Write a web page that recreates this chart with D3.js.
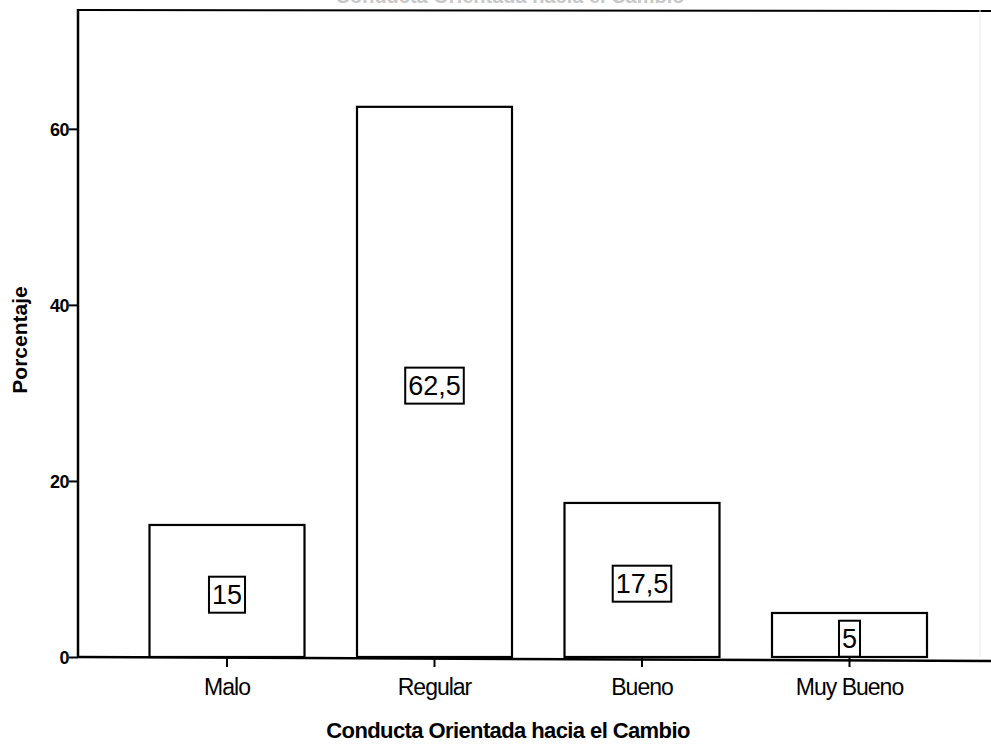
<!DOCTYPE html>
<meta charset="utf-8">
<head>
<style>
  body { margin: 0; background: #fff; }
  text { font-family: "Liberation Sans", Arial, sans-serif; fill: #000; }
</style>
</head>
<body>
<script src="https://cdn.jsdelivr.net/npm/d3@7"></script>
<script>

// data
var categories = ["Malo", "Regular", "Bueno", "Muy Bueno"];
var values = [15, 62.5, 17.5, 5];
var valueLabels = ["15", "62,5", "17,5", "5"];
var yTicks = [0, 20, 40, 60];
var xTitle = "Conducta Orientada hacia el Cambio";
var yTitle = "Porcentaje";

var W = 991, H = 744;
var plotLeft = 78, plotTop = 10, baseY = 657;

var svg = d3.select("body").append("svg")
    .attr("width", W)
    .attr("height", H);

var x = d3.scaleBand()
    .domain(categories)
    .range([123.25, 953.25])
    .paddingInner(0.253)
    .paddingOuter(0.1265);

var y = d3.scaleLinear()
    .domain([0, 73.5])
    .range([baseY, plotTop]);

// title, mostly cut off by the top edge in the scan
svg.append("text")
    .attr("x", 510)
    .attr("y", 3)
    .attr("text-anchor", "middle")
    .style("font-weight", "bold")
    .style("font-size", "20px")
    .style("fill", "#c8c8c8")
    .text(xTitle);

// frame: top line and faint right line
svg.append("line")
    .attr("x1", plotLeft).attr("x2", W)
    .attr("y1", plotTop).attr("y2", plotTop + 1)
    .attr("stroke", "#000").attr("stroke-width", 2);
svg.append("line")
    .attr("x1", 980).attr("x2", 980)
    .attr("y1", plotTop).attr("y2", baseY)
    .attr("stroke", "#ececec").attr("stroke-width", 1);

// bars
svg.selectAll("rect.bar")
    .data(values)
    .enter().append("rect")
    .attr("class", "bar")
    .attr("x", function(d, i) { return x(categories[i]); })
    .attr("y", function(d) { return y(d); })
    .attr("width", x.bandwidth())
    .attr("height", function(d) { return y(0) - y(d); })
    .attr("fill", "#fff")
    .attr("stroke", "#000")
    .attr("stroke-width", 2.2);

// y axis
var yAxis = svg.append("g")
    .attr("transform", "translate(" + plotLeft + ",0)")
    .call(d3.axisLeft(y).tickValues(yTicks).tickSize(9).tickPadding(0).tickSizeOuter(0));
yAxis.select(".domain").remove();
yAxis.selectAll(".tick line").attr("stroke", "#000").attr("stroke-width", 2);
yAxis.selectAll("text")
    .style("font-size", "18px")
    .style("font-weight", "bold")
    .style("letter-spacing", "-0.5px")
    .attr("dy", "0.36em");
svg.append("line")
    .attr("x1", plotLeft).attr("x2", plotLeft)
    .attr("y1", plotTop - 1).attr("y2", baseY + 1)
    .attr("stroke", "#000").attr("stroke-width", 2.5);

// x axis
var xAxis = svg.append("g")
    .attr("transform", "translate(0," + baseY + ")")
    .call(d3.axisBottom(x).tickSize(10).tickPadding(12).tickSizeOuter(0));
xAxis.select(".domain").remove();
xAxis.selectAll(".tick line").attr("stroke", "#000").attr("stroke-width", 2);
xAxis.selectAll("text")
    .style("font-size", "23px")
    .style("letter-spacing", "-1px");
svg.append("line")
    .attr("x1", plotLeft).attr("x2", W)
    .attr("y1", baseY).attr("y2", baseY + 4)
    .attr("stroke", "#000").attr("stroke-width", 2.5);

// value labels in boxes
var lab = svg.selectAll("g.lab")
    .data(values)
    .enter().append("g")
    .attr("class", "lab")
    .attr("transform", function(d, i) {
        return "translate(" + (x(categories[i]) + x.bandwidth() / 2) + "," + (y(d / 2) + 3) + ")";
    });
lab.append("text")
    .attr("text-anchor", "middle")
    .attr("dy", "0.36em")
    .style("font-size", "27px")
    .text(function(d, i) { return valueLabels[i]; });
lab.each(function() {
    var g = d3.select(this);
    var bb = g.select("text").node().getBBox();
    g.insert("rect", "text")
        .attr("x", bb.x - 3)
        .attr("y", bb.y - 3)
        .attr("width", bb.width + 6)
        .attr("height", bb.height + 6)
        .attr("fill", "#fff")
        .attr("stroke", "#000")
        .attr("stroke-width", 2);
});

// axis titles
svg.append("text")
    .attr("x", 508)
    .attr("y", 738)
    .attr("text-anchor", "middle")
    .style("font-weight", "bold")
    .style("font-size", "22px")
    .style("letter-spacing", "-0.6px")
    .text(xTitle);

svg.append("text")
    .attr("transform", "translate(27,340) rotate(-90)")
    .attr("text-anchor", "middle")
    .style("font-weight", "bold")
    .style("font-size", "21px")
    .text(yTitle);

</script>
</body>
